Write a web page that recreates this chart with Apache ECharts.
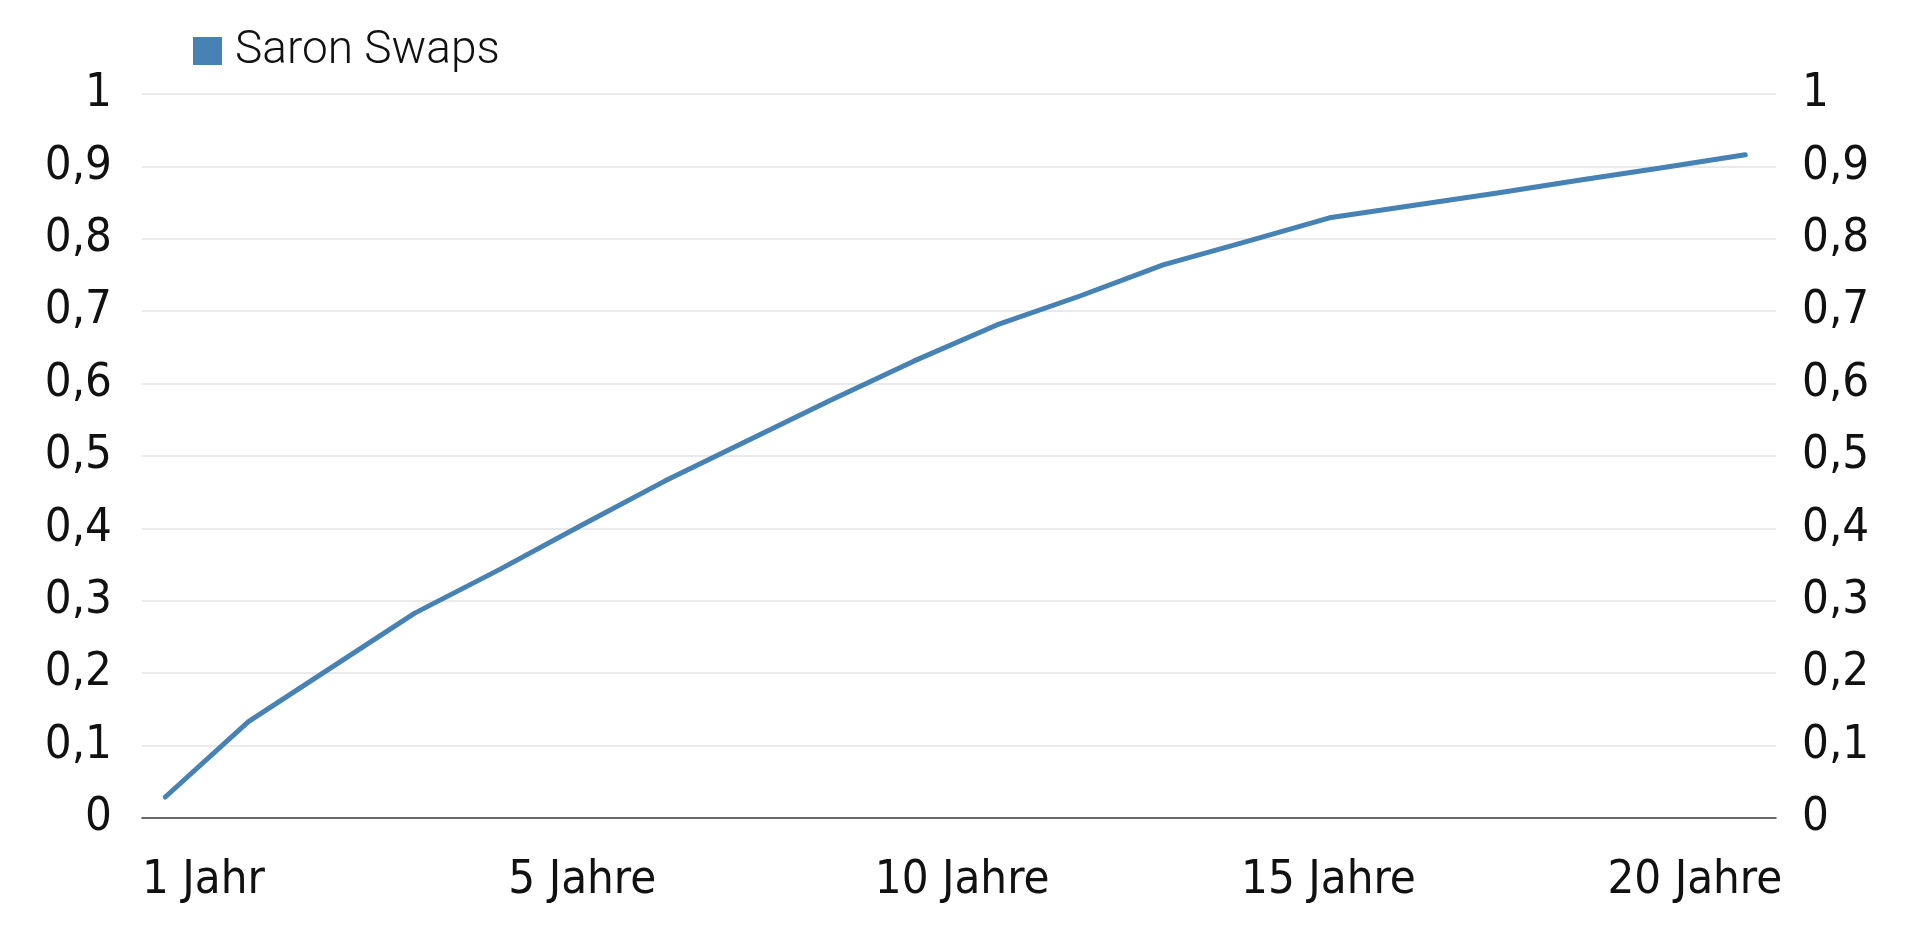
<!DOCTYPE html>
<html>
<head>
<meta charset="utf-8">
<script src="https://cdn.jsdelivr.net/npm/echarts@6/dist/echarts.min.js"></script>
<style>
  html, body { margin: 0; padding: 0; background: #fff; }
  #chart { width: 1920px; height: 929px; }
</style>
</head>
<body>
<div id="chart"></div>
<script>
// Laufzeit in Jahren und Zinssatz Saron Swaps (%)
const years = [1, 2, 3, 4, 5, 6, 7, 8, 9, 10, 11, 12, 13, 14, 15, 16, 17, 18, 19, 20];
const saronSwaps = [0.029, 0.133, 0.208, 0.283, 0.342, 0.404, 0.465, 0.521, 0.577, 0.631,
                    0.681, 0.721, 0.764, 0.796, 0.829, 0.846, 0.863, 0.881, 0.898, 0.916];
const xLabels = ['1 Jahr', '5 Jahre', '10 Jahre', '15 Jahre', '20 Jahre'];

const narrow = '"Liberation Sans Narrow", "DejaVu Sans Condensed", sans-serif';
const textColor = '#111';

const myChart = echarts.init(document.getElementById('chart'));

const fmtY = (v) => String(+v.toFixed(1)).replace('.', ',');

const yLabel = {
  fontFamily: narrow,
  fontSize: 47,
  color: textColor,
  formatter: fmtY,
};

const option = {
  animation: false,
  legend: {
    left: 193,
    top: 28,
    padding: 0,
    icon: 'rect',
    itemWidth: 29,
    itemHeight: 28,
    textStyle: {
      fontFamily: 'Roboto',
      fontWeight: 300,
      fontSize: 46,
      color: textColor,
      padding: [0, 0, 0, 8],
    },
    data: ['Saron Swaps'],
  },
  grid: {
    left: 142,
    right: 144,
    top: 94,
    bottom: 111,
  },
  xAxis: [
    {
      type: 'value',
      min: 0.72,
      max: 20.37,
      axisLine: { show: true, onZero: false, lineStyle: { color: '#3c3c3c', width: 1.5 } },
      axisTick: { show: false },
      axisLabel: { show: false },
      splitLine: { show: false },
    },
    {
      // nur für die Beschriftung der Laufzeiten
      type: 'value',
      position: 'bottom',
      min: 0,
      max: 4.46,
      interval: 1,
      axisLine: { show: false },
      axisTick: { show: false },
      splitLine: { show: false },
      axisLabel: {
        align: 'left',
        margin: 39,
        fontFamily: narrow,
        fontSize: 47,
        color: textColor,
        showMaxLabel: false,
        formatter: (v) => xLabels[v] || '',
      },
    },
  ],
  yAxis: [
    {
      type: 'value',
      position: 'left',
      min: 0,
      max: 1,
      interval: 0.1,
      axisLine: { show: false },
      axisTick: { show: false },
      splitLine: { lineStyle: { color: '#e3e3e3', width: 1.5 } },
      axisLabel: { ...yLabel, margin: 30 },
    },
    {
      type: 'value',
      position: 'right',
      min: 0,
      max: 1,
      interval: 0.1,
      axisLine: { show: false },
      axisTick: { show: false },
      splitLine: { show: false },
      axisLabel: { ...yLabel, margin: 26 },
    },
  ],
  series: [
    {
      name: 'Saron Swaps',
      type: 'line',
      xAxisIndex: 0,
      yAxisIndex: 0,
      data: years.map((y, i) => [y, saronSwaps[i]]),
      showSymbol: false,
      symbol: 'none',
      color: '#4682b4',
      lineStyle: { width: 5, color: '#4682b4', cap: 'round', join: 'round' },
    },
  ],
};

myChart.setOption(option);
</script>
</body>
</html>
